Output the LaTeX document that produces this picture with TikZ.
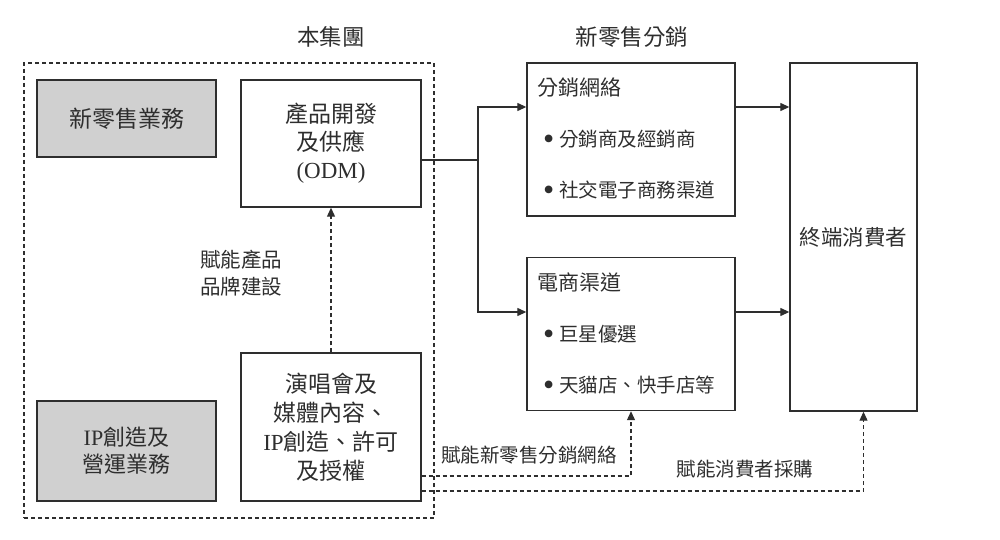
\documentclass[tikz,border=0pt]{standalone}
\usepackage{fontspec}
\setmainfont{Liberation Serif}
\newfontfamily\cjk{Noto Sans CJK TC}
\usepackage{tikz}
\usetikzlibrary{arrows.meta,positioning}
\definecolor{ink}{HTML}{2E2E2E}
\definecolor{shade}{HTML}{D0D0D0}
\tikzstyle{every node}=[text=ink]
\tikzstyle{box}=[draw=ink,line width=1.4pt,align=center,inner sep=0pt,font=\cjk\fontsize{23}{28}\selectfont]
\tikzstyle{unit}=[box,fill=shade,minimum width=179pt]
\tikzstyle{inhouse}=[box,minimum width=180pt]
\tikzstyle{channel}=[box,align=left,minimum width=208pt,minimum height=153pt,
  text width=188pt,inner xsep=10pt,font=\cjk\fontsize{19.5}{51}\selectfont]
\tikzstyle{heading}=[font=\cjk\fontsize{22.5}{27}\selectfont]
\tikzstyle{note}=[align=center,font=\cjk\fontsize{19.5}{27}\selectfont]
\tikzstyle{flow}=[draw=ink,line width=1.3pt,-{Triangle[length=9pt,width=8pt]}]
\tikzstyle{enable}=[flow,line width=1.1pt,dash pattern=on 4pt off 3pt]
\newcommand{\chantitle}[1]{{\fontsize{21}{51}\selectfont #1}}
\newcommand{\chanitem}{\hspace*{6pt}\raisebox{-3pt}{\rmfamily\fontsize{32}{51}\selectfont\textbullet}\hspace{5pt}}

\begin{document}
\begin{tikzpicture}[x=1pt,y=-1pt]
  \useasboundingbox (0,0) rectangle (1000,540);
  \node[draw=ink,line width=1.1pt,dash pattern=on 4pt off 3pt,minimum width=410pt,
    minimum height=455pt] (group) at (229,290.5) {};
  \node[heading] (grouptitle) at (331,37) {本集團};
  \node[heading] (salestitle) at (632,37) {新零售分銷};

  \node[unit,minimum height=77pt] (retail) at (126.5,118.5) {新零售業務};
  \node[unit,minimum height=100pt,font=\cjk\fontsize{22}{27}\selectfont] (ipbiz)
    at (126.5,451) {{\rmfamily IP}創造及\\營運業務};
  \node[inhouse,minimum height=127pt] (odm) at (331,143.5)
    {產品開發\\及供應\\{\rmfamily (ODM)}};
  \node[inhouse,minimum height=148pt,font=\cjk\fontsize{23}{29}\selectfont] (concert)
    at (331,427) {演唱會及\\媒體內容、\\{\rmfamily IP}創造、許可\\及授權};

  \node[channel] (distnet) at (631,139.5)
    {\chantitle{分銷網絡}\\\chanitem 分銷商及經銷商\\\chanitem 社交電子商務渠道};
  \node[channel] (ecom) at (631,334)
    {\chantitle{電商渠道}\\\chanitem 巨星優選\\\chanitem 天貓店、快手店等};
  \node[box,minimum width=127pt,minimum height=348pt,font=\cjk\fontsize{21.5}{27}\selectfont]
    (consumer) at (853.5,237) {終端消費者};

  \node[note,font=\cjk\fontsize{20.5}{27}\selectfont] (brandnote) at (241,273) {賦能產品\\品牌建設};
  \node[note] (salesnote) at (529,455) {賦能新零售分銷網絡};
  \node[note] (buynote) at (745,469) {賦能消費者採購};

  \coordinate (split) at (478,160);
  \coordinate (upper) at (0,107);
  \coordinate (lower) at (0,312);
  \coordinate (enable1) at (0,476);
  \coordinate (enable2) at (0,491);

  \draw[draw=ink,line width=1.3pt] (odm.east |- split) -- (split);
  \draw[flow] (split) |- (distnet.west |- upper);
  \draw[flow] (split) |- (ecom.west |- lower);
  \draw[flow] (distnet.east |- upper) -- (consumer.west |- upper);
  \draw[flow] (ecom.east |- lower) -- (consumer.west |- lower);
  \draw[enable] (concert.north) -- (odm.south);
  \draw[enable] (concert.east |- enable1) -| (ecom.south);
  \draw[enable] (concert.east |- enable2) -| ([xshift=10pt]consumer.south);
\end{tikzpicture}
\end{document}
